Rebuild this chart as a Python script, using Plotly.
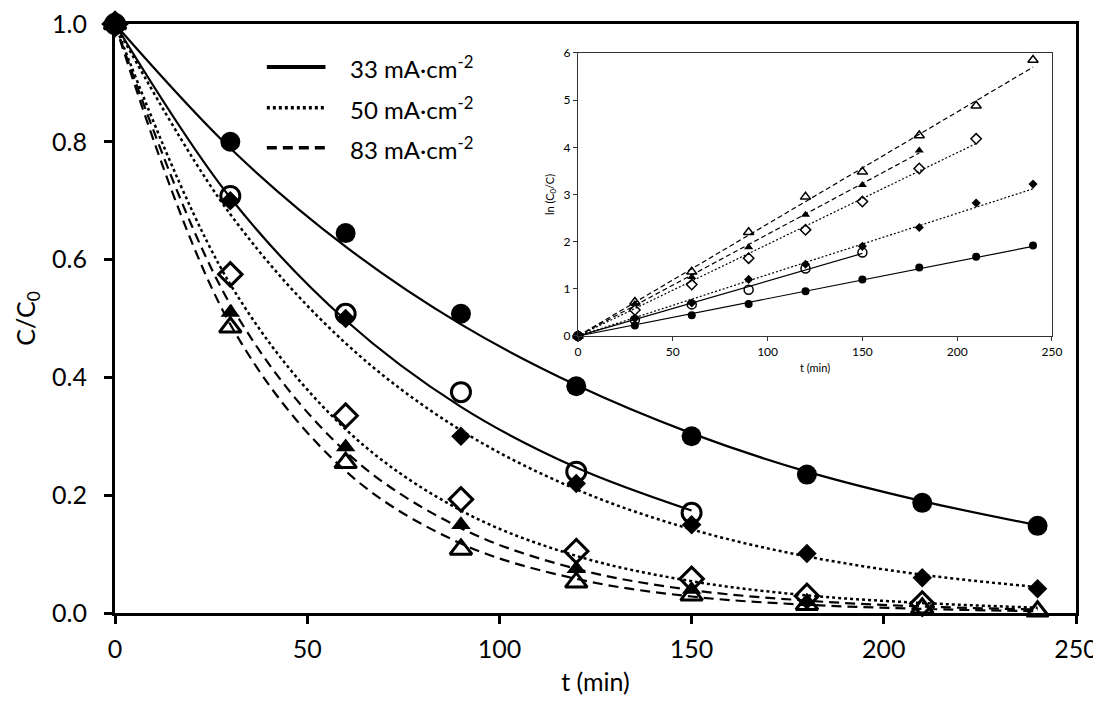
import plotly.graph_objects as go

# ---------------- data ----------------
t_all = [0, 30, 60, 90, 120, 150, 180, 210, 240]

# main chart: measured C/C0
t_A = [0, 30, 60, 90, 120, 150, 180, 210, 240]
c_A = [1.0, 0.80, 0.645, 0.508, 0.385, 0.300, 0.235, 0.187, 0.148]
t_B = [0, 30, 60, 90, 120, 150]
c_B = [1.0, 0.708, 0.508, 0.375, 0.240, 0.170]
t_C = [0, 30, 60, 90, 120, 150, 180, 210, 240]
c_C = [1.0, 0.700, 0.500, 0.300, 0.220, 0.150, 0.101, 0.060, 0.041]
t_D = [0, 30, 60, 90, 120, 150, 180, 210]
c_D = [1.0, 0.575, 0.335, 0.193, 0.105, 0.058, 0.029, 0.016]
t_E = [0, 30, 60, 90, 120, 150, 180]
c_E = [1.0, 0.510, 0.282, 0.150, 0.075, 0.040, 0.019]
t_F = [0, 30, 60, 90, 120, 150, 180, 210, 240]
c_F = [1.0, 0.485, 0.255, 0.108, 0.052, 0.030, 0.014, 0.008, 0.003]

# main chart: fitted curves, read at 30-min steps
fitA = [1.0, 0.789, 0.622, 0.490, 0.387, 0.305, 0.240, 0.190, 0.149]
fitB = [1.0, 0.705, 0.497, 0.350, 0.247, 0.174]
fitC = [1.0, 0.677, 0.458, 0.310, 0.210, 0.142, 0.096, 0.065, 0.044]
fitD = [1.0, 0.558, 0.312, 0.174, 0.097, 0.054, 0.030, 0.017, 0.009]
fitE = [1.0, 0.524, 0.274, 0.144, 0.075, 0.039, 0.021, 0.011, 0.006]
fitF = [1.0, 0.490, 0.241, 0.118, 0.058, 0.028, 0.014, 0.007, 0.003]

# inset: ln(C0/C)
l_A = [0, 0.22, 0.44, 0.68, 0.95, 1.20, 1.45, 1.68, 1.92]
l_B = [0, 0.34, 0.67, 0.98, 1.43, 1.77]
l_C = [0, 0.37, 0.70, 1.20, 1.52, 1.90, 2.30, 2.82, 3.22]
l_D = [0, 0.55, 1.09, 1.65, 2.25, 2.85, 3.55, 4.18]
l_E = [0, 0.68, 1.25, 1.88, 2.57, 3.20, 3.93]
l_F = [0, 0.72, 1.36, 2.20, 2.95, 3.48, 4.25, 4.88, 5.85]
# inset linear fits: start and end points
lin_t = {"A": [0, 240], "B": [0, 150], "C": [0, 240], "D": [0, 210], "E": [0, 180], "F": [0, 240]}
lin_y = {"A": [0, 1.90], "B": [0, 1.75], "C": [0, 3.12], "D": [0, 4.08], "E": [0, 3.88], "F": [0, 5.70]}

legend_labels = ["33 mA·cm<sup>-2</sup>", "50 mA·cm<sup>-2</sup>", "83 mA·cm<sup>-2</sup>"]
x_ticks = [0, 50, 100, 150, 200, 250]
y_ticks = [0.0, 0.2, 0.4, 0.6, 0.8, 1.0]
inset_x_ticks = [0, 50, 100, 150, 200, 250]
inset_y_ticks = [0, 1, 2, 3, 4, 5, 6]

FONT = "Lato"
fig = go.Figure()

# ---------- main fitted curves ----------
dash_solid = "solid"
dash_dot = "3px,3px"
dash_dash = "10px,6px"
curves = [
    (t_A, fitA, dash_solid, 2.2),
    (t_B, fitB, dash_solid, 2.2),
    (t_all, fitC, dash_dot, 2.5),
    (t_all, fitD, dash_dot, 2.5),
    (t_all, fitE, dash_dash, 2.2),
    (t_all, fitF, dash_dash, 2.2),
]
for tx, cy, d, w in curves:
    fig.add_trace(go.Scatter(x=tx, y=cy, mode="lines", line=dict(color="black", width=w, dash=d, shape="spline", smoothing=1.0),
                             showlegend=False, hoverinfo="skip", cliponaxis=False))

# ---------- main markers ----------
markers = [
    (t_A, c_A, "circle", 20, "black", 0),
    (t_B, c_B, "circle-open", 19, "black", 3),
    (t_C, c_C, "diamond", 15, "black", 0),
    (t_D, c_D, "diamond-open", 18, "black", 3),
    (t_E, c_E, "triangle-up", 17, "black", 0),
    (t_F, c_F, "triangle-up-open", 19, "black", 3),
]
for tx, cy, sym, sz, col, lw in markers:
    fig.add_trace(go.Scatter(x=tx, y=cy, mode="markers",
                             marker=dict(symbol=sym, size=sz, color=col, line=dict(color="black", width=lw)),
                             showlegend=False, cliponaxis=False))

# ---------- inset ----------
inset_lines = [("A", "solid"), ("B", "solid"), ("C", "2px,2px"), ("D", "2px,2px"), ("E", "5px,3px"), ("F", "5px,3px")]
for k, d in inset_lines:
    fig.add_trace(go.Scatter(x=lin_t[k], y=lin_y[k], mode="lines", xaxis="x2", yaxis="y2",
                             line=dict(color="black", width=1.2, dash=d), showlegend=False, hoverinfo="skip"))
inset_markers = [
    (t_A, l_A, "circle", 8, 0),
    (t_B, l_B, "circle-open", 9, 1.5),
    (t_C, l_C, "diamond", 7, 0),
    (t_D, l_D, "diamond-open", 8, 1.5),
    (t_E, l_E, "triangle-up", 8, 0),
    (t_F, l_F, "triangle-up-open", 9, 1.5),
]
for tx, ly, sym, sz, lw in inset_markers:
    fig.add_trace(go.Scatter(x=tx, y=ly, mode="markers", xaxis="x2", yaxis="y2",
                             marker=dict(symbol=sym, size=sz, color="black", line=dict(color="black", width=lw)),
                             showlegend=False, cliponaxis=False))

# ---------- manual legend ----------
legend_dash = ["solid", "3px,3px", "10px,6px"]
legend_y = [0.927, 0.858, 0.790]
shapes = []
annotations = []
for lab, d, yy in zip(legend_labels, legend_dash, legend_y):
    shapes.append(dict(type="line", xref="paper", yref="paper", x0=0.158, x1=0.219, y0=yy, y1=yy,
                       line=dict(color="black", width=4 if d == "solid" else 3.5, dash=d)))
    annotations.append(dict(text=lab, xref="paper", yref="paper", x=0.2425, y=yy, xanchor="left", yanchor="middle",
                            showarrow=False, font=dict(family=FONT, size=24, color="black")))

fig.update_layout(
    width=1093, height=688,
    margin=dict(l=107, r=25, t=16, b=83, autoexpand=False),
    paper_bgcolor="white", plot_bgcolor="white",
    font=dict(family=FONT, color="black"),
    shapes=shapes, annotations=annotations,
    xaxis=dict(range=[0, 250], tickvals=x_ticks, showline=True, linecolor="black", linewidth=3, mirror=True,
               ticks="outside", ticklen=8, tickwidth=2.5, tickcolor="black", showgrid=False, zeroline=False,
               tickfont=dict(size=25, family=FONT), automargin=False, ticklabelstandoff=4,
               ticklabeloverflow="allow",
               title=dict(text="t (min)", font=dict(size=25, family=FONT), standoff=16)),
    yaxis=dict(range=[0, 1], tickvals=y_ticks, tickformat=".1f", showline=True, linecolor="black", linewidth=3, mirror=True,
               ticks="outside", ticklen=8, tickwidth=2.5, tickcolor="black", showgrid=False, zeroline=False,
               tickfont=dict(size=25, family=FONT), automargin=False, ticklabelstandoff=12,
               ticklabeloverflow="allow",
               title=dict(text="C/C<sub>0</sub>", font=dict(size=25, family=FONT), standoff=10)),
    xaxis2=dict(domain=[0.4818, 0.9750], anchor="y2", range=[0, 250], tickvals=inset_x_ticks,
                showline=True, linecolor="#333", linewidth=1.3, mirror=True, ticks="outside", ticklen=4,
                tickcolor="#333", showgrid=False, zeroline=False, tickfont=dict(size=12, family=FONT),
                automargin=False,
                title=dict(text="t (min)", font=dict(size=11, family=FONT), standoff=6)),
    yaxis2=dict(domain=[0.4703, 0.9508], anchor="x2", range=[0, 6], tickvals=inset_y_ticks,
                showline=True, linecolor="#333", linewidth=1.3, mirror=True, ticks="outside", ticklen=4,
                tickcolor="#333", showgrid=False, zeroline=False, tickfont=dict(size=12, family=FONT),
                automargin=False,
                title=dict(text="ln (C<sub>0</sub>/C)", font=dict(size=11, family=FONT), standoff=6)),
)

fig.write_html("out.html")
